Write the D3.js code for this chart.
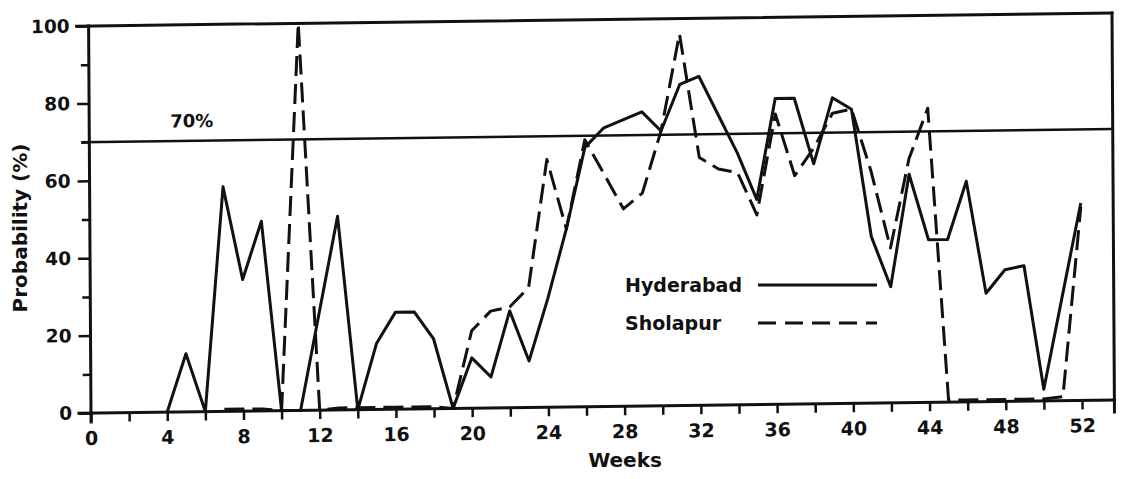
<!DOCTYPE html>
<html>
<head>
<meta charset="utf-8">
<script src="https://cdn.jsdelivr.net/npm/d3@7"></script>
<style>
  body { margin: 0; background: #fff; }
  text { font-family: "DejaVu Sans", sans-serif; font-weight: bold; fill: #111; }
</style>
</head>
<body>
<div id="chart"></div>
<script>
// Weekly probability (%)
const hydWeeks = [4, 5, 6, 7, 8, 9, 10, 11, 12, 13, 14, 15, 16, 17, 18, 19, 20, 21, 22, 23, 24, 25, 26, 27, 28,
  29, 30, 31, 32, 33, 34, 35, 36, 37, 38, 39, 40, 41, 42, 43, 44, 45, 46, 47, 48, 49, 50, 51, 52];
const hydValues = [0, 15, 0, 58, 34, 49, 0, 0, 25, 50, 0, 17, 25, 25, 18, 0, 13, 8, 25, 12, 28, 46, 67, 72, 74,
  76, 71, 83, 85, 75, 65, 53, 79, 79, 62, 79, 76, 43, 30, 59, 42, 42, 57, 28, 34, 35, 3, 27, 51];

const shoWeeks = [7, 8, 9, 10, 11, 12, 13, 14, 15, 16, 17, 18, 19, 20, 21, 22, 23, 24, 25, 26, 27, 28,
  29, 30, 31, 32, 33, 34, 35, 36, 37, 38, 39, 40, 41, 42, 43, 44, 45, 46, 47, 48, 49, 50, 51, 52];
const shoValues = [0.5, 0.5, 0.5, 0, 100, 0, 0.5, 0.5, 0.5, 0.5, 0.5, 0.5, 0, 20, 25, 26, 31, 64, 46, 69, 60, 51,
  55, 71, 96, 64, 61, 60, 49, 75, 59, 66, 75, 76, 60, 40, 63, 76, 0.5, 0.5, 0.5, 0.5, 0.5, 0.5, 1, 50];

const xTicks = [0, 2, 4, 6, 8, 10, 12, 14, 16, 18, 20, 22, 24, 26, 28, 30, 32, 34, 36, 38, 40, 42, 44, 46, 48, 50, 52];
const xLabels = [0, 4, 8, 12, 16, 20, 24, 28, 32, 36, 40, 44, 48, 52];
const yMajor = [0, 20, 40, 60, 80, 100];
const yMinor = [10, 30, 50, 70, 90];
const threshold = 70;
const lastWeek = 53.7; // right edge of the frame

const width = 1122, height = 479;
const originX = 91, originY = 413;
// the scanned figure is slightly sheared, so the plot group gets a small skew
const shearX = 0.0062, shearY = -0.01274;

const svg = d3.select("#chart").append("svg")
  .attr("width", width)
  .attr("height", height);

const x = d3.scaleLinear().domain([0, 52]).range([0, 991]);
const y = d3.scaleLinear().domain([0, 100]).range([0, -387]);

const g = svg.append("g")
  .attr("transform", `translate(${originX},${originY}) matrix(1,${shearY},${shearX},1,0,0)`);

// x ticks (every 2 weeks, labels every 4)
const xAxis = g.append("g")
  .call(d3.axisBottom(x).tickValues(xTicks).tickSize(9)
    .tickFormat(d => xLabels.includes(d) ? d : ""));
xAxis.select(".domain").remove();
xAxis.selectAll("line").attr("stroke", "#111").attr("stroke-width", 2.5);
xAxis.selectAll("text").attr("y", 32).attr("dy", null).style("font-size", "19px");

// y ticks
const yAxis = g.append("g")
  .call(d3.axisLeft(y).tickValues(yMajor).tickSize(12));
yAxis.select(".domain").remove();
yAxis.selectAll("line").attr("stroke", "#111").attr("stroke-width", 2.5);
yAxis.selectAll("text").attr("x", -19).style("font-size", "18.5px");

const yAxisMinor = g.append("g")
  .call(d3.axisLeft(y).tickValues(yMinor).tickSize(8).tickFormat(""));
yAxisMinor.select(".domain").remove();
yAxisMinor.selectAll("line").attr("stroke", "#111").attr("stroke-width", 2.5);

// frame: axes, top line, right border
const frame = [
  [[x(0), 9], [x(0), y(100)]],
  [[-12, y(0)], [x(lastWeek), y(0)]],
  [[-12, y(100)], [x(lastWeek), y(100)]],
  [[x(lastWeek), y(100)], [x(lastWeek), 12]]
];
g.selectAll(".frame")
  .data(frame)
  .enter()
  .append("line")
  .attr("class", "frame")
  .attr("x1", d => d[0][0]).attr("y1", d => d[0][1])
  .attr("x2", d => d[1][0]).attr("y2", d => d[1][1])
  .attr("stroke", "#111")
  .attr("stroke-width", 3)
  .attr("stroke-linecap", "square");

// 70% reference line
g.append("line")
  .attr("x1", -8).attr("x2", x(lastWeek))
  .attr("y1", y(threshold)).attr("y2", y(threshold))
  .attr("stroke", "#111")
  .attr("stroke-width", 2.6);

g.append("text")
  .attr("x", x(4.25))
  .attr("y", y(73.5))
  .style("font-size", "18px")
  .text("70%");

// series
const line = d3.line().x(d => x(d[0])).y(d => y(d[1]));

g.append("path")
  .datum(d3.zip(hydWeeks, hydValues))
  .attr("d", line)
  .attr("fill", "none")
  .attr("stroke", "#111")
  .attr("stroke-width", 3)
  .attr("stroke-linejoin", "round");

g.append("path")
  .datum(d3.zip(shoWeeks, shoValues))
  .attr("d", line)
  .attr("fill", "none")
  .attr("stroke", "#111")
  .attr("stroke-width", 3)
  .attr("stroke-dasharray", "20,8")
  .attr("stroke-linejoin", "round");

// axis titles
svg.append("text")
  .attr("transform", "translate(27,228) rotate(-90)")
  .attr("text-anchor", "middle")
  .style("font-size", "20px")
  .text("Probability (%)");

svg.append("text")
  .attr("x", 625)
  .attr("y", 467)
  .attr("text-anchor", "middle")
  .style("font-size", "20px")
  .text("Weeks");

// legend
const legendItems = [
  { name: "Hyderabad", dash: null, y: 285 },
  { name: "Sholapur", dash: "18,9", y: 323 }
];
const legend = svg.append("g").attr("class", "legend");
legend.selectAll("text")
  .data(legendItems)
  .enter()
  .append("text")
  .attr("x", 625)
  .attr("y", d => d.y + 7)
  .style("font-size", "19px")
  .text(d => d.name);
legend.selectAll("line")
  .data(legendItems)
  .enter()
  .append("line")
  .attr("x1", 758).attr("x2", 877)
  .attr("y1", d => d.y).attr("y2", d => d.y)
  .attr("stroke", "#111")
  .attr("stroke-width", 3)
  .attr("stroke-dasharray", d => d.dash);
</script>
</body>
</html>
